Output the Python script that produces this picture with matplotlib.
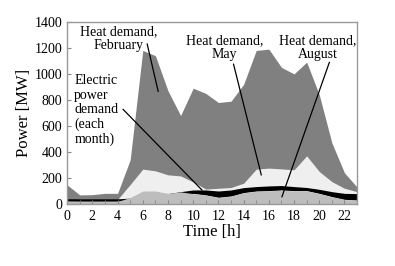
import matplotlib
matplotlib.use("Agg")
import matplotlib.pyplot as plt

hours = list(range(24))
heat_feb = [147, 70, 72, 82, 82, 340, 1180, 1140, 870, 680, 890, 850, 780, 790, 920,
            1180, 1190, 1050, 1000, 1090, 840, 470, 240, 130]
heat_may = [35, 35, 35, 35, 35, 150, 268, 255, 224, 216, 170, 115, 121, 127, 160,
            268, 276, 270, 263, 370, 250, 172, 121, 95]
elec_upper = [41, 40, 40, 40, 40, 45, 60, 70, 80, 95, 108, 108, 100, 108, 126,
              134, 139, 142, 134, 127, 113, 95, 82, 80]
elec_lower = [23, 22, 22, 22, 22, 25, 35, 45, 55, 70, 82, 70, 52, 62, 88,
              100, 103, 108, 103, 103, 82, 57, 36, 31]
heat_aug = [20, 20, 20, 20, 20, 50, 100, 100, 82, 93, 80, 68, 50, 60, 86,
            98, 101, 106, 101, 101, 80, 55, 34, 29]

xticks = list(range(0, 24, 2))
yticks = list(range(0, 1401, 200))

plt.rcParams['font.family'] = ['Liberation Serif', 'DejaVu Serif']

fig = plt.figure(figsize=(3.95, 2.66), dpi=100)
ax = fig.add_axes([0.170, 0.233, 0.734, 0.685])

ax.fill_between(hours, 0, heat_feb, color='#808080', lw=0)
ax.fill_between(hours, 0, heat_may, color='#efefef', lw=0)
ax.fill_between(hours, elec_lower, elec_upper, color='black', lw=0)
ax.fill_between(hours, 0, heat_aug, color='#bdbdbd', lw=0)

ax.set_xlim(0, 23)
ax.set_ylim(0, 1400)
ax.set_xticks(range(0, 24), minor=True)
ax.set_xticks(xticks)
ax.set_xticklabels([str(t) for t in xticks], fontsize=10)
ax.set_yticks(yticks)
ax.set_yticklabels([str(t) for t in yticks], fontsize=10)
ax.tick_params(axis='both', which='both', direction='in', color='#888888', length=3)
ax.tick_params(axis='x', pad=4)
for s in ax.spines.values():
    s.set_color('#999999')
    s.set_linewidth(1)

ax.set_xlabel('Time [h]', fontsize=12, labelpad=1)
ax.set_ylabel('Power [MW]', fontsize=12, labelpad=2)

kw = dict(fontsize=10, ha='center', va='center', linespacing=1.1)
ax.text(4.05, 1268, 'Heat demand,\nFebruary', **kw)
ax.text(12.46, 1202, 'Heat demand,\nMay', **kw)
ax.text(19.9, 1202, 'Heat demand,\nAugust', **kw)
ax.text(0.56, 719, 'Electric\npower\ndemand\n(each\nmonth)', fontsize=10,
        ha='left', va='center', linespacing=1.15)

lw = 0.9
ax.plot([6.35, 7.22], [1229, 866], color='black', lw=lw)
ax.plot([4.44, 10.69], [727, 108], color='black', lw=lw)
ax.plot([13.2, 15.4], [1074, 224], color='black', lw=lw)
ax.plot([20.8, 17.04], [1088, 56], color='black', lw=lw)

fig.savefig('out.png', dpi=100)
